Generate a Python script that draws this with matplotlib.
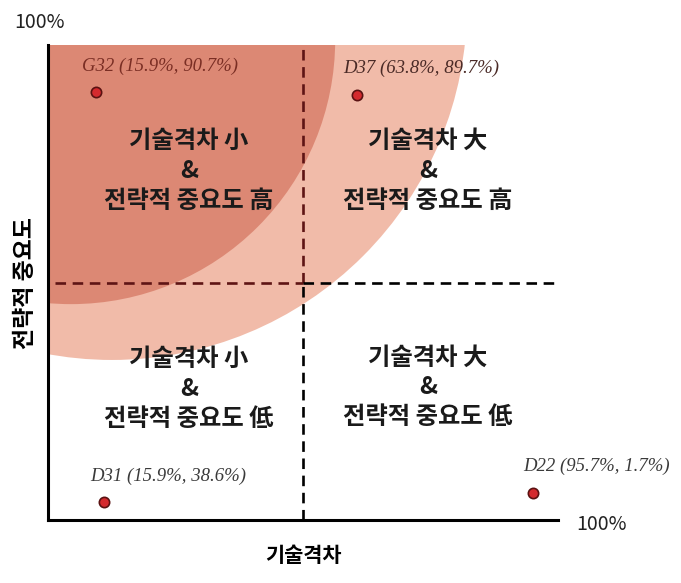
import matplotlib
matplotlib.use("Agg")
import matplotlib.pyplot as plt
from matplotlib.patches import Ellipse

plt.rcParams['font.family'] = ['Noto Sans CJK KR', 'DejaVu Sans']

# 항목 이름과 라벨 값 (기술격차 %, 전략적 중요도 %)
names = ["G32", "D37", "D31", "D22"]
gap_label = [15.9, 63.8, 15.9, 95.7]
imp_label = [90.7, 89.7, 38.6, 1.7]

# 그림에서 읽은 점 위치 (개념도라 라벨 값과 다름)
gap_pos = [9.4, 60.6, 11.0, 95.1]
imp_pos = [90.1, 89.5, 3.8, 5.7]
label_colors = ["#7a2e24", "#4a2a26", "#3a3a3a", "#3a3a3a"]

# 사분면 문구
quad_text = [
    "기술격차 小\n&\n전략적 중요도 高",
    "기술격차 大\n&\n전략적 중요도 高",
    "기술격차 小\n&\n전략적 중요도 低",
    "기술격차 大\n&\n전략적 중요도 低",
]
quad_x = [27.6, 74.5, 27.6, 74.5]
quad_y = [73.5, 73.5, 27.6, 28.0]

fig = plt.figure(figsize=(6.81, 5.83), dpi=100)
ax = fig.add_axes([0.0705, 0.108, 0.749, 0.8148])
ax.set_xlim(0, 100)
ax.set_ylim(0, 100)

# 배경 원 영역 (연한 것, 진한 것)
light = Ellipse((12.55, 108.4), 2 * 69.6, 2 * 74.7, facecolor="#f1bba9",
                edgecolor="none", zorder=1)
dark = Ellipse((4.5, 101.05), 2 * 51.8, 2 * 55.6, facecolor="#dc8874",
               edgecolor="none", zorder=2)
ax.add_patch(light)
ax.add_patch(dark)

# 사분면 점선
ax.plot([50, 50], [50, 100], ls=(0, (4, 2.5)), lw=1.9, color="#5e1414", zorder=3)
ax.plot([50, 50], [0, 50], ls=(0, (4, 2.5)), lw=1.9, color="black", zorder=3)
ax.plot([1.4, 50], [50, 50], ls=(0, (4, 2.5)), lw=1.9, color="#5e1414", zorder=3)
ax.plot([50, 100], [50, 50], ls=(0, (4, 2.5)), lw=1.9, color="black", zorder=3)

# 점과 라벨
ax.scatter(gap_pos, imp_pos, s=55, color="#d42a2e", edgecolor="#5a1212",
           linewidth=1.2, zorder=5)
for i in range(len(names)):
    txt = f"{names[i]} ({gap_label[i]}%, {imp_label[i]}%)"
    ax.text(gap_pos[i] + 12.5, imp_pos[i] + 5.5, txt, ha="center", va="center",
            family="Liberation Serif", style="italic", fontsize=13.5,
            color=label_colors[i], zorder=6)

for i in range(4):
    ax.text(quad_x[i], quad_y[i], quad_text[i], ha="center", va="center",
            fontsize=17.5, fontweight="bold", color="#1a1a1a",
            linespacing=1.3, zorder=6)

for s in ["top", "right"]:
    ax.spines[s].set_visible(False)
ax.spines["left"].set_linewidth(2.2)
ax.spines["bottom"].set_linewidth(2.2)
ax.spines["left"].set_zorder(7)
ax.spines["bottom"].set_zorder(7)
ax.set_xticks([])
ax.set_yticks([])

ax.set_xlabel("기술격차", fontsize=15, fontweight="bold", labelpad=18)
ax.set_ylabel("전략적 중요도", fontsize=16.5, fontweight="bold", labelpad=8)

fig.text(40 / 681, 1 - 22 / 583, "100%", ha="center", va="center", fontsize=14,
         color="#222222")
fig.text(601 / 681, 1 - 525 / 583, "100%", ha="center", va="center", fontsize=14,
         color="#222222")

fig.savefig("out.png", dpi=100)
